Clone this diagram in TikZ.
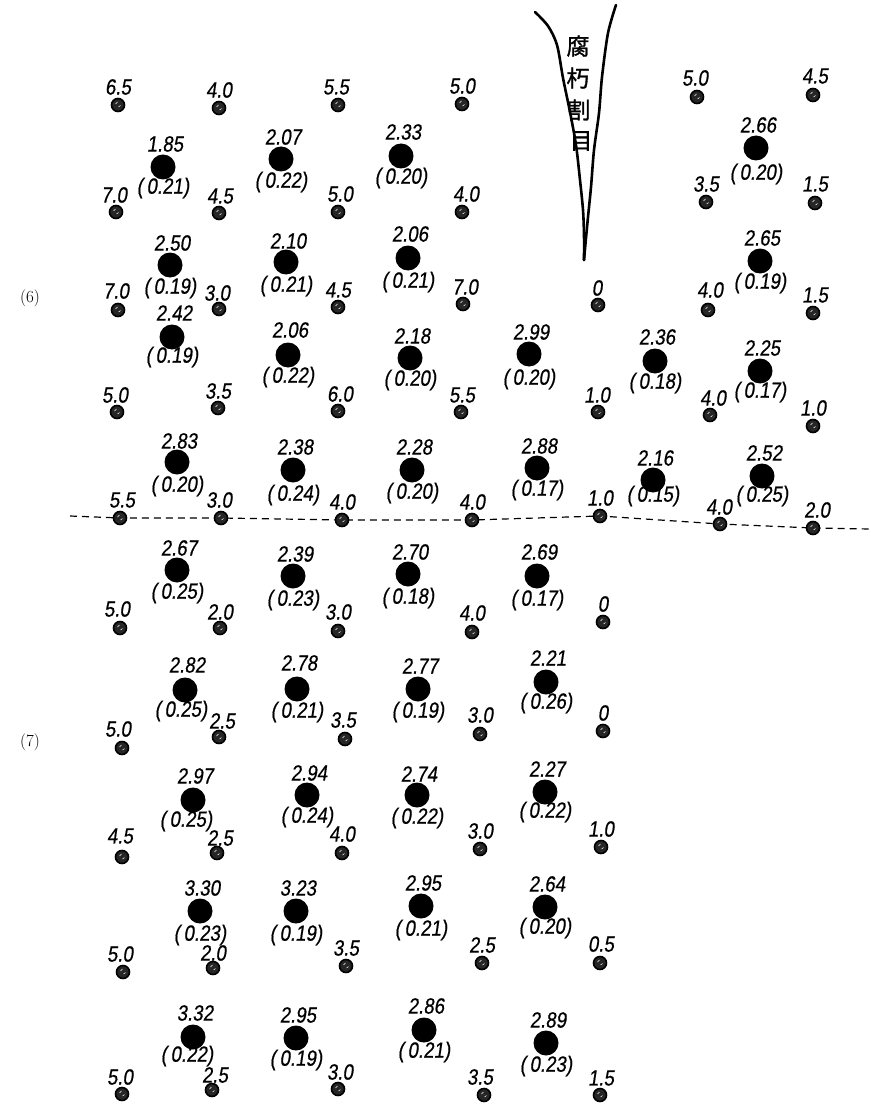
\documentclass[tikz,border=0pt]{standalone}
\usepackage{fontspec}
\usetikzlibrary{backgrounds}
\newfontfamily\hand[FakeSlant=0.15,FakeStretch=0.85,FakeBold=0.6]{Liberation Sans}
\newfontfamily\cjk[FakeBold=1.2]{Noto Sans CJK JP}
\begin{document}
\begin{tikzpicture}[x=1pt,y=-1pt,
  bigpt/.style={circle,fill=black,minimum size=25pt,inner sep=0pt},
  smallpt/.style={circle,draw=black,line width=1.6pt,fill=black!85,minimum size=13pt,inner sep=0pt,
    path picture={\draw[white,line width=0.5pt] ([shift={(-2.5pt,1pt)}]path picture bounding box.center) -- ++(2pt,2pt)
      ([shift={(0.5pt,-2pt)}]path picture bounding box.center) -- ++(2pt,1.5pt);}},
  lab/.style={font=\hand\fontsize{22}{22}\selectfont,inner sep=0pt},
  seclab/.style={font=\fontsize{17}{17}\selectfont,inner sep=0pt},
  crack/.style={line width=2.6pt,line cap=round,line join=round},
  cjklab/.style={font=\cjk\fontsize{23}{23}\selectfont,inner sep=0pt},
  sep/.style={line width=1.2pt,dash pattern=on 7pt off 5pt}]
\useasboundingbox (0,0) rectangle (870,1107);

% crack
\draw[crack] plot[smooth] coordinates {(535,12) (548,26) (557,45) (563,78) (570,112) (576,145) (580,180) (583,210) (584,235) (584,260)};
\draw[crack] plot[smooth] coordinates {(616,5) (608,33) (602,77) (599,113) (594,150) (591,187) (588,217) (586,238) (584,260)};
\node[cjklab] (k1) at (578,46) {腐};
\node[cjklab] (k2) at (578,78) {朽};
\node[cjklab] (k3) at (579,110) {割};
\node[cjklab] (k4) at (581,141) {目};

\node[seclab] (sec6) at (30,298) {(6)};
\node[seclab] (sec7) at (30,742) {(7)};

% small points
\foreach \t/\x/\y/\lx/\ly [count=\i] in {
6.5/118/105/118/87, 4.0/219/108/219/90, 5.5/338/105/336/87, 5.0/462/104/462/86,
5.0/697/97/695/78, 4.5/813/95/815/76,
7.0/116/212/114/195, 4.5/219/213/220/196, 5.0/338/212/340/194, 4.0/462/212/466/194,
3.5/706/202/706/184, 1.5/815/203/815/184,
7.0/118/310/116/291, 3.0/219/309/217/293, 4.5/338/307/338/290, 7.0/463/304/465/287,
0/598/305/597/288, 4.0/708/310/710/290, 1.5/813/313/815/295,
5.0/117/412/115/395, 3.5/218/408/218/391, 6.0/338/411/340/394, 5.5/461/412/462/395,
1.0/598/412/597/395, 4.0/710/415/713/398, 1.0/813/426/813/408,
5.5/120/518/122/500, 3.0/221/518/219/500, 4.0/342/520/342/502, 4.0/472/520/472/502,
1.0/600/516/600/498, 4.0/720/524/719/507, 2.0/813/528/817/510,
5.0/120/628/117/609, 2.0/220/628/220/612, 3.0/338/631/338/612, 4.0/472/632/472/613, 0/603/622/603/604,
5.0/122/748/118/729, 2.5/219/737/222/721, 3.5/345/739/343/720, 3.0/480/734/480/715, 0/603/731/603/713,
4.5/122/857/120/836, 2.5/217/853/220/838, 4.0/342/853/342/834, 3.0/480/849/480/831, 1.0/601/847/601/829,
5.0/123/972/120/954, 2.0/213/968/213/953, 3.5/346/966/346/948, 2.5/482/963/482/945, 0.5/600/963/601/944,
5.0/122/1094/120/1077, 2.5/212/1090/215/1075, 3.0/338/1089/340/1072, 3.5/484/1095/480/1077, 1.5/600/1095/601/1078}
{
  \node[smallpt] (s\i) at (\x,\y) {};
  \node[lab] (st\i) at (\lx,\ly) {\t};
}

% big points
\foreach \v/\p/\x/\y/\px/\ly/\py [count=\i] in {
1.85/0.21/163/167/163/144/188, 2.07/0.22/281/159/281/137/182, 2.33/0.20/401/156/401/132/178, 2.66/0.20/756/148/756/125/174,
2.50/0.19/170/265/170/243/288, 2.10/0.21/286/262/286/241/286, 2.06/0.21/408/258/408/234/282, 2.65/0.19/760/261/760/238/283,
2.42/0.19/172/337/172/313/357, 2.06/0.22/288/355/288/330/377, 2.18/0.20/410/358/410/336/380, 2.99/0.20/529/354/529/332/379,
2.36/0.18/655/361/655/337/383, 2.25/0.17/760/371/760/348/392,
2.83/0.20/177/462/177/441/486, 2.38/0.24/293/470/293/447/495, 2.28/0.20/412/470/412/447/493, 2.88/0.17/537/468/537/446/490,
2.16/0.15/653/480/653/458/496, 2.52/0.25/762/476/762/453/496,
2.67/0.25/177/570/177/548/593, 2.39/0.23/293/576/293/554/600, 2.70/0.18/408/574/408/552/598, 2.69/0.17/537/576/537/552/600,
2.82/0.25/185/690/181/665/711, 2.78/0.21/297/689/297/663/712, 2.77/0.19/418/689/418/666/712, 2.21/0.26/546/682/546/658/703,
2.97/0.25/193/800/186/776/821, 2.94/0.24/307/795/307/773/817, 2.74/0.22/417/795/417/774/818, 2.27/0.22/545/792/545/769/812,
3.30/0.23/200/911/200/888/935, 3.23/0.19/296/911/296/888/935, 2.95/0.21/421/906/421/883/930, 2.64/0.20/545/907/545/884/928,
3.32/0.22/193/1037/187/1013/1056, 2.95/0.19/296/1038/296/1015/1060, 2.86/0.21/424/1030/424/1006/1052, 2.89/0.23/546/1043/546/1020/1066}
{
  \node[bigpt] (b\i) at (\x,\y) {};
  \node[lab] (bv\i) at (\x+2,\ly) {\v};
  \node[lab] (bp\i) at (\px,\py) {(\,\p)};
}

% dashed boundary line
\coordinate (dL) at (70,516);
\coordinate (dR) at (870,529);
\begin{scope}[on background layer]
\draw[sep] (dL) -- (s27.center) -- (s28.center) -- (s29.center) -- (s30.center) -- (s31.center) -- (s32.center) -- (s33.center) -- (dR);
\end{scope}
\end{tikzpicture}
\end{document}
